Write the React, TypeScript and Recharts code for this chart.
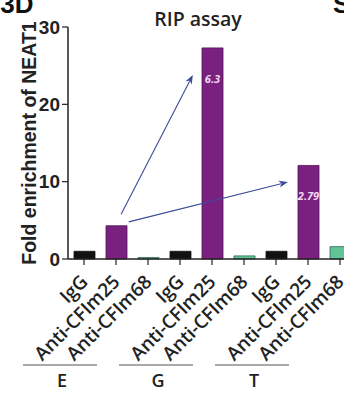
import React from 'react';
import { BarChart, Bar, XAxis, YAxis, Cell, ReferenceLine, LabelList } from 'recharts';

const categories = ['E-IgG', 'E-25', 'E-68', 'G-IgG', 'G-25', 'G-68', 'T-IgG', 'T-25', 'T-68'];
const tickLabels = ['IgG', 'Anti-CFIm25', 'Anti-CFIm68', 'IgG', 'Anti-CFIm25', 'Anti-CFIm68', 'IgG', 'Anti-CFIm25', 'Anti-CFIm68'];
const positions = [0.5, 1.5, 2.5, 3.5, 4.5, 5.5, 6.5, 7.5, 8.5];
const values = [1.0, 4.3, 0.2, 1.0, 27.3, 0.4, 1.0, 12.1, 1.6];
const annotations = ['', '', '', '', '6.3', '', '', '2.79', ''];
const groups = ['E', 'G', 'T'];
const yTicks = [0, 10, 20, 30];
// arrows in category-band units: [x1, y1, x2, y2]
const arrows = [
  [1.66, 5.8, 3.9, 23.8],
  [1.9, 4.8, 6.87, 9.96],
];

const COLORS: Record<string, string> = { IgG: '#111111', 'Anti-CFIm25': '#7a2180', 'Anti-CFIm68': '#62c496' };
const STROKES: Record<string, string> = { IgG: '#111111', 'Anti-CFIm25': '#4e1553', 'Anti-CFIm68': '#2f6b4e' };

const data = categories.map((c, i) => ({ key: c, pos: positions[i], value: values[i], note: annotations[i] }));

const XTick = (props: any) => {
  const { x, y, payload } = props;
  const i = positions.indexOf(payload.value);
  if (i < 0) return <g />;
  const label = tickLabels[i];
  const tx = x + 5;
  const ty = y + 16;
  return (
    <g>
      <text
        x={tx}
        y={ty}
        transform={`rotate(-45, ${tx}, ${ty})`}
        textAnchor="end"
        fontFamily="'Open Sans', sans-serif"
        fontWeight={600}
        fontSize={19}
        fill="#222"
      >
        {label}
      </text>
      {i % 3 === 0 && (
        <g>
          <line x1={x - 61} x2={x + 13} y1={y + 98} y2={y + 98} stroke="#555" strokeWidth={1} />
          <text
            x={x - 22}
            y={y + 120}
            textAnchor="middle"
            fontFamily="'Open Sans', sans-serif"
            fontWeight={600}
            fontSize={18}
            fill="#222"
          >
            {groups[i / 3]}
          </text>
        </g>
      )}
    </g>
  );
};

const ArrowShape = (p: any) => {
  const { x1, y1, x2, y2 } = p;
  if ([x1, y1, x2, y2].some((v) => typeof v !== 'number' || isNaN(v))) return <g />;
  const a = Math.atan2(y2 - y1, x2 - x1);
  const L = 9;
  const W = 3.5;
  const bx = x2 - L * Math.cos(a);
  const by = y2 - L * Math.sin(a);
  const px = -Math.sin(a) * W;
  const py = Math.cos(a) * W;
  return (
    <g>
      <line x1={x1} y1={y1} x2={bx + 2 * Math.cos(a)} y2={by + 2 * Math.sin(a)} stroke="#3d4a9a" strokeWidth={1.1} />
      <polygon points={`${x2},${y2} ${bx + px},${by + py} ${bx + 2.5 * Math.cos(a)},${by + 2.5 * Math.sin(a)} ${bx - px},${by - py}`} fill="#3d4a9a" />
    </g>
  );
};

const NoteLabel = (props: any) => {
  const { x, y, width, value } = props;
  if (!value) return null;
  return (
    <text
      x={x + width / 2}
      y={y + 35}
      textAnchor="middle"
      fontFamily="'Open Sans', sans-serif"
      fontStyle="italic"
      fontWeight={700}
      fontSize={11}
      fill="#f1d8f0"
    >
      {value}
    </text>
  );
};

const YLabel = (props: any) => {
  const vb = props.viewBox || { x: 0, y: 27, width: 68, height: 232 };
  const cy = vb.y + vb.height / 2;
  const cx = 36;
  return (
    <text
      x={cx}
      y={cy}
      transform={`rotate(-90, ${cx}, ${cy})`}
      textAnchor="middle"
      fontFamily="'Liberation Sans', Arial, sans-serif"
      fontWeight={700}
      fontSize={19.5}
      fill="#222"
    >
      Fold enrichment of NEAT1
    </text>
  );
};

export default function App() {
  return (
    <div style={{ position: 'absolute', left: 0, top: 0, width: 344, height: 393, overflow: 'hidden', background: '#fff' }}>
      <svg width={344} height={40} style={{ position: 'absolute', left: 0, top: 0 }}>
        <text x={-17} y={13} fontFamily="'Liberation Sans', Arial, sans-serif" fontWeight={700} fontSize={26} fill="#111">S3D</text>
        <text x={333} y={13} fontFamily="'Liberation Sans', Arial, sans-serif" fontWeight={700} fontSize={26} fill="#111">S</text>
        <text x={198} y={26} textAnchor="middle" fontFamily="'Open Sans', sans-serif" fontWeight={600} fontSize={19.5} fill="#222">RIP assay</text>
      </svg>
      <div style={{ position: 'absolute', left: 0, top: 0 }}>
        <BarChart width={360} height={393} data={data} margin={{ top: 27, right: 4, bottom: 0, left: 0 }}>
          <XAxis
            dataKey="pos"
            type="number"
            domain={[0, 9]}
            allowDataOverflow
            ticks={positions}
            height={134}
            interval={0}
            tickSize={6}
            tick={<XTick />}
            axisLine={{ stroke: '#222', strokeWidth: 1.5 }}
            tickLine={{ stroke: '#222', strokeWidth: 1.2 }}
          />
          <YAxis
            width={68}
            domain={[0, 30]}
            ticks={yTicks}
            interval={0}
            tickSize={6}
            tickMargin={2}
            axisLine={{ stroke: '#222', strokeWidth: 1.5 }}
            tickLine={{ stroke: '#222', strokeWidth: 1.2 }}
            tick={{ fontFamily: "'Liberation Sans', Arial, sans-serif", fontWeight: 700, fontSize: 19, fill: '#222' }}
            label={<YLabel />}
          />
          <Bar dataKey="value" barSize={21} isAnimationActive={false} strokeWidth={0.8}>
            {data.map((d, i) => (
              <Cell key={d.key} fill={COLORS[tickLabels[i]]} stroke={STROKES[tickLabels[i]]} />
            ))}
            <LabelList dataKey="note" content={<NoteLabel />} />
          </Bar>
          {arrows.map((a, i) => (
            <ReferenceLine
              key={i}
              segment={[{ x: a[0], y: a[1] }, { x: a[2], y: a[3] }]}
              shape={<ArrowShape />}
              ifOverflow="visible"
            />
          ))}
        </BarChart>
      </div>
    </div>
  );
}
